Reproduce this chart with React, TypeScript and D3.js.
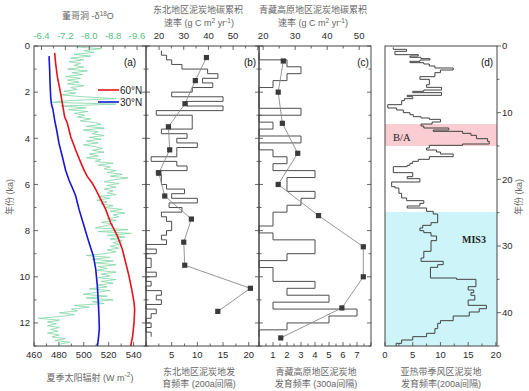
import * as d3 from "d3";

const FONT = "'Liberation Sans', Arial, 'Noto Sans CJK SC', sans-serif";

// 夏季太阳辐射 (W m-2), [ka, value]
const insolation60N: [number, number][] = [
  [0.3, 476.6], [0.76, 477.4], [1.34, 478.8], [1.91, 480.9], [2.49, 482.8], [3.07, 484.6],
  [3.35, 486.8], [3.93, 489.5], [4.51, 493.5], [4.87, 496.2], [5.38, 500.2], [5.66, 502.9],
  [5.95, 506.9], [6.21, 509.6], [6.65, 513.6], [7.08, 517.6], [7.66, 521.6], [8.23, 527.0],
  [8.81, 531.0], [9.39, 533.7], [9.96, 536.3], [10.54, 538.5], [11.12, 540.4], [11.41, 540.9],
  [11.98, 540.4], [12.56, 539.3], [13.0, 537.7],
];
const insolation30N: [number, number][] = [
  [0.44, 472.1], [1.05, 472.6], [1.62, 472.9], [2.2, 473.4], [2.49, 473.9], [2.78, 475.3],
  [3.21, 476.6], [3.64, 478.2], [4.22, 480.1], [4.8, 482.8], [5.38, 485.4], [5.81, 488.1],
  [6.24, 491.6], [6.5, 493.5], [7.08, 496.2], [7.8, 500.2], [8.52, 504.2], [9.1, 507.7],
  [9.67, 509.6], [10.4, 510.9], [11.12, 511.7], [11.7, 512.2], [12.27, 512.5], [12.85, 511.4],
  [13.0, 510.9],
];

// 董哥洞 δ18O, [ka, ‰]
const dongge: [number, number][] = [
  [0.04, -7.6], [0.12, -8.38], [0.2, -7.82], [0.28, -8.16], [0.36, -7.49], [0.44, -8.05],
  [0.52, -7.38], [0.6, -7.82], [0.68, -7.32], [0.76, -7.71], [0.84, -7.49], [0.92, -7.82],
  [1.0, -7.27], [1.08, -7.94], [1.16, -7.43], [1.24, -7.77], [1.32, -7.21], [1.4, -7.71],
  [1.48, -7.27], [1.56, -7.66], [1.64, -7.27], [1.72, -7.82], [1.8, -7.38], [1.88, -7.6],
  [1.96, -7.15], [2.04, -7.55], [2.12, -7.05], [2.2, -7.8], [2.28, -8.9], [2.36, -7.4],
  [2.44, -6.75], [2.52, -8.9], [2.6, -7.05], [2.68, -7.9], [2.76, -7.3], [2.84, -7.95],
  [2.92, -7.5], [3.0, -7.85], [3.08, -7.6], [3.16, -8.05], [3.24, -7.7], [3.32, -8.2],
  [3.4, -8.4], [3.48, -7.9], [3.56, -8.5], [3.64, -7.8], [3.72, -8.3], [3.8, -8.1],
  [3.88, -8.5], [3.96, -8.0], [4.04, -8.4], [4.12, -7.9], [4.2, -8.3], [4.28, -7.8],
  [4.36, -8.2], [4.44, -8.45], [4.52, -8.1], [4.6, -8.5], [4.68, -8.0], [4.76, -8.3],
  [4.84, -7.9], [4.92, -8.4], [5.0, -8.2], [5.08, -8.8], [5.16, -8.3], [5.24, -8.7],
  [5.32, -8.5], [5.4, -8.9], [5.48, -8.6], [5.56, -9.1], [5.64, -8.7], [5.72, -9.3],
  [5.8, -8.8], [5.88, -8.5], [5.96, -9.0], [6.04, -8.6], [6.12, -8.9], [6.2, -8.5],
  [6.28, -8.8], [6.36, -8.6], [6.44, -8.9], [6.52, -8.3], [6.6, -8.7], [6.68, -8.25],
  [6.76, -8.6], [6.84, -8.4], [6.92, -8.8], [7.0, -8.5], [7.08, -9.1], [7.16, -8.7],
  [7.24, -9.2], [7.32, -8.8], [7.4, -9.0], [7.48, -8.6], [7.56, -8.9], [7.64, -8.4],
  [7.72, -8.8], [7.8, -8.5], [7.88, -8.2], [7.96, -9.3], [8.04, -8.3], [8.12, -9.4],
  [8.2, -8.6], [8.28, -9.2], [8.36, -8.7], [8.44, -9.1], [8.52, -8.8], [8.6, -9.0],
  [8.68, -8.7], [8.76, -9.0], [8.84, -8.6], [8.92, -8.9], [9.0, -8.5], [9.08, -7.9],
  [9.16, -8.7], [9.24, -8.1], [9.32, -8.8], [9.4, -8.2], [9.48, -8.9], [9.56, -8.3],
  [9.64, -8.6], [9.72, -8.25], [9.8, -8.9], [9.88, -8.4], [9.96, -8.7], [10.04, -8.3],
  [10.12, -8.9], [10.2, -8.4], [10.28, -8.8], [10.36, -8.3], [10.44, -8.6], [10.52, -8.0],
  [10.6, -8.7], [10.68, -8.2], [10.76, -7.8], [10.84, -8.6], [10.92, -7.9], [11.0, -8.8],
  [11.08, -8.1], [11.16, -8.5], [11.24, -7.5], [11.32, -8.0], [11.4, -7.4], [11.48, -7.6],
  [11.56, -7.0], [11.64, -7.5], [11.72, -7.05], [11.8, -6.3], [11.88, -7.0], [11.96, -6.6],
  [12.04, -6.9], [12.12, -6.6], [12.2, -7.0], [12.28, -6.7], [12.36, -6.95], [12.44, -6.6],
  [12.52, -7.0], [12.6, -6.75], [12.68, -7.2], [12.76, -6.85], [12.84, -7.35], [12.92, -7.0],
];

// 东北地区
const carbonNEAge = [0.5, 1.5, 2.5, 3.5, 4.5, 5.5, 6.5, 7.5, 8.5, 9.5, 10.5, 11.5];
const carbonNE = [39.2, 34.7, 30.5, 23.8, 24.3, 19.9, 22.3, 33.1, 30.0, 30.4, 57.0, 43.8];
const freqNEStart = 0.2;
const freqNEBin = 0.2;
const freqNE = [
  3, 4, 5, 7, 12, 14, 11, 13, 9, 5, 15, 8, 15, 2, 9, 9, 9, 3, 8, 6, 10, 6, 6, 1, 6, 8, 2, 3, 3, 4,
  7.5, 5, 10, 4.5, 7, 3, 4, 5, 5, 4, 3, 4, 0, 2, 0, 1, 1, 0, 2, 0, 1, 0, 3, 2, 3, 0, 2, 1, 0, 1, 0, 1,
];

// 青藏高原地区
const carbonTPAge = [0.65, 2.0, 3.35, 4.65, 6.0, 7.35, 8.7, 10.0, 11.35, 12.65];
const carbonTP = [26.3, 24.7, 26.0, 30.8, 24.7, 37.3, 51.3, 51.3, 44.6, 25.5];
const freqTPStart = 0.3;
const freqTPBin = 0.3;
const freqTP = [
  0, 2, 3, 2, 1, 0, 0, 0, 3, 0, 1, 0, 3, 0, 1, 2, 1, 4, 2, 2, 4, 3, 2, 1, 1, 0, 1, 4, 4, 2, 0, 1, 1,
  4, 2, 5, 1, 7, 5, 2, 0,
];

// 亚热带季风区, [bin start ka, frequency]
const freqSub: [number, number][] = [
  [0.2, 1.5], [0.5, 3.9], [0.8, 1.8], [1.3, 6.0], [1.5, 4.5], [1.7, 6.5], [1.9, 8.1], [2.1, 6.3],
  [2.3, 4.5], [2.5, 7.0], [2.7, 8.0], [3.0, 9.0], [3.3, 12.3], [3.6, 10.0], [4.0, 9.0], [4.6, 6.3],
  [5.0, 8.0], [5.8, 7.5], [6.2, 10.2], [6.6, 7.0], [6.8, 5.0], [7.0, 10.2], [7.4, 4.0], [7.6, 5.0],
  [7.9, 3.5], [8.2, 3.0], [8.8, 0.5], [9.3, 2.1], [9.6, 3.3], [10.0, 4.5], [10.3, 5.1], [10.6, 6.5],
  [10.8, 8.0], [11.0, 10.0], [11.4, 8.5], [11.7, 6.5], [12.0, 7.0], [12.3, 11.5], [12.6, 8.7],
  [12.8, 14.0], [13.1, 15.5], [13.4, 16.5], [13.9, 18.5], [14.3, 18.8], [14.7, 14.0], [14.9, 8.0],
  [15.3, 7.5], [15.6, 9.3], [15.9, 10.0], [16.2, 12.3], [16.6, 8.0], [17.0, 6.0], [17.3, 5.0],
  [17.6, 4.5], [17.9, 4.0], [18.1, 1.5], [19.0, 5.0], [19.6, 4.0], [19.9, 6.3], [20.4, 1.2],
  [21.1, 1.8], [21.3, 2.5], [22.1, 3.0], [22.8, 3.9], [23.2, 7.0], [23.6, 6.3], [24.0, 4.0],
  [24.3, 7.5], [24.8, 8.7], [25.2, 9.5], [26.5, 8.3], [26.9, 6.8], [27.3, 6.3], [27.7, 7.0],
  [28.0, 8.3], [28.5, 9.3], [29.2, 8.3], [30.8, 7.0], [31.8, 6.5], [32.3, 10.5], [32.8, 9.5],
  [33.2, 8.2], [34.8, 12.9], [35.0, 16.4], [36.1, 15.0], [36.6, 16.0], [37.0, 15.5], [37.4, 16.2],
  [38.1, 15.0], [38.9, 18.3], [39.4, 17.0], [39.9, 15.2], [40.5, 12.3], [41.2, 10.0], [41.6, 9.5],
  [42.4, 9.0], [43.1, 7.5], [43.6, 5.0], [44.1, 3.0], [44.6, 2.0],
];
const freqSubEnd = 45;
const baPeriod = [11.7, 15.0];
const mis3Period = [24.9, 45];

const TOP = 46;
const BOTTOM = 346;
const PA = [34, 146];
const PB = [146, 259];
const PC = [259, 371];
const PD = [385, 497];
const FRAME = "#444";

function binsFrom(start: number, width: number, values: number[]): [number, number][] {
  return values.map((v, i) => [start + i * width, v]);
}

function stepPath(bins: [number, number][], end: number, x: any, y: any) {
  const pts: [number, number][] = [];
  bins.forEach(([t, v], i) => {
    const t1 = i < bins.length - 1 ? bins[i + 1][0] : end;
    pts.push([x(v), y(t)], [x(v), y(t1)]);
  });
  return d3.line()(pts) || "";
}

function VTicks({ x, dir, y, step, max, major }: any) {
  const vals = d3.range(0, max + 0.001, step);
  return (
    <g stroke={FRAME} strokeWidth={0.8}>
      {vals.map((v) => {
        const len = Math.abs(v / major - Math.round(v / major)) < 1e-6 ? 4 : 2.5;
        return <line key={v} x1={x} x2={x + dir * len} y1={y(v)} y2={y(v)} />;
      })}
    </g>
  );
}

function HTicks({ scale, vals, majors, y, dir }: any) {
  return (
    <g stroke={FRAME} strokeWidth={0.8}>
      {vals.map((v: number) => {
        const len = majors.some((m: number) => Math.abs(m - v) < 1e-6) ? 4 : 2.5;
        return <line key={v} x1={scale(v)} x2={scale(v)} y1={y} y2={y + dir * len} />;
      })}
    </g>
  );
}

export default function App() {
  const y13 = d3.scaleLinear().domain([0, 13]).range([TOP, BOTTOM]);
  const y45 = d3.scaleLinear().domain([0, 45]).range([TOP, BOTTOM]);
  const xIns = d3.scaleLinear().domain([460, 550]).range(PA);
  const xD18O = d3.scaleLinear().domain([-6.15, -9.9]).range(PA);
  const xCarbNE = d3.scaleLinear().domain([14.7, 60.5]).range(PB);
  const xFreqNE = d3.scaleLinear().domain([0, 22]).range(PB);
  const xCarbTP = d3.scaleLinear().domain([18.7, 53.7]).range(PC);
  const xFreqTP = d3.scaleLinear().domain([0, 8]).range(PC);
  const xFreqSub = d3.scaleLinear().domain([0, 20.2]).range(PD);

  const line = d3.line<[number, number]>();
  const greenPath = line(dongge.map(([t, v]) => [xD18O(v), y13(t)]));
  const redPath = line(insolation60N.map(([t, w]) => [xIns(w), y13(t)]));
  const bluePath = line(insolation30N.map(([t, w]) => [xIns(w), y13(t)]));

  const neBins = binsFrom(freqNEStart, freqNEBin, freqNE);
  const tpBins = binsFrom(freqTPStart, freqTPBin, freqTP);
  const nePath = stepPath(neBins, freqNEStart + freqNE.length * freqNEBin, xFreqNE, y13);
  const tpPath = stepPath(tpBins, freqTPStart + freqTP.length * freqTPBin, xFreqTP, y13);
  const subPath = stepPath(freqSub, freqSubEnd, xFreqSub, y45);

  const neCarbPts: [number, number][] = carbonNE.map((v, i) => [xCarbNE(v), y13(carbonNEAge[i])]);
  const tpCarbPts: [number, number][] = carbonTP.map((v, i) => [xCarbTP(v), y13(carbonTPAge[i])]);

  const tickLabel = { fontSize: 9.5, fill: "#2a2a2a" };
  const titleStyle = { fontSize: 9, fill: "#666" };

  return (
    <svg width={529} height={391} style={{ position: "absolute", left: 0, top: 0, background: "#fff" }} fontFamily={FONT}>
      {/* 背景区间 */}
      <rect x={PD[0]} y={y45(baPeriod[0])} width={PD[1] - PD[0]} height={y45(baPeriod[1]) - y45(baPeriod[0])} fill="#f9cdd1" />
      <rect x={PD[0]} y={y45(mis3Period[0])} width={PD[1] - PD[0]} height={y45(mis3Period[1]) - y45(mis3Period[0])} fill="#cdf4f8" />

      {/* (a) */}
      <path d={greenPath || ""} fill="none" stroke="#7fd4a2" strokeWidth={0.8} />
      <path d={redPath || ""} fill="none" stroke="#e4141b" strokeWidth={1.6} />
      <path d={bluePath || ""} fill="none" stroke="#1616d6" strokeWidth={1.6} />
      <line x1={98} x2={119} y1={90} y2={90} stroke="#e4141b" strokeWidth={1.6} />
      <line x1={98} x2={119} y1={102} y2={102} stroke="#1616d6" strokeWidth={1.6} />
      <text x={120} y={93.5} fontSize={10} fill="#222">60°N</text>
      <text x={120} y={105.5} fontSize={10} fill="#222">30°N</text>

      {/* (b) */}
      <path d={nePath} fill="none" stroke="#444" strokeWidth={0.95} />
      <path d={line(neCarbPts) || ""} fill="none" stroke="#8a8a8a" strokeWidth={0.9} />
      {neCarbPts.map(([x, y], i) => (
        <rect key={i} x={x - 2.6} y={y - 2.6} width={5.2} height={5.2} fill="#3a3a3a" />
      ))}

      {/* (c) */}
      <path d={tpPath} fill="none" stroke="#444" strokeWidth={0.95} />
      <path d={line(tpCarbPts) || ""} fill="none" stroke="#8a8a8a" strokeWidth={0.9} />
      {tpCarbPts.map(([x, y], i) => (
        <rect key={i} x={x - 2.6} y={y - 2.6} width={5.2} height={5.2} fill="#3a3a3a" />
      ))}

      {/* (d) */}
      <path d={subPath} fill="none" stroke="#3a3a3a" strokeWidth={0.95} />
      <text x={393} y={141} fontSize={10.5} fontFamily="'Liberation Serif', 'Times New Roman', serif" fill="#222">B/A</text>
      <text x={462} y={243} fontSize={10} fontWeight="bold" fontFamily="'Liberation Serif', 'Times New Roman', serif" fill="#222">MIS3</text>

      {/* 框 */}
      {[PA, PB, PC, PD].map((p, i) => (
        <rect key={i} x={p[0]} y={TOP} width={p[1] - p[0]} height={BOTTOM - TOP} fill="none" stroke={FRAME} strokeWidth={1} />
      ))}

      {/* 纵轴刻度 */}
      {[PA, PB, PC].map((p, i) => (
        <g key={i}>
          <VTicks x={p[0]} dir={1} y={y13} step={1} max={13} major={2} />
          <VTicks x={p[1]} dir={-1} y={y13} step={1} max={13} major={2} />
        </g>
      ))}
      <VTicks x={PD[1]} dir={1} y={y45} step={5} max={45} major={10} />
      {d3.range(0, 13, 2).map((v) => (
        <text key={v} x={30} y={y13(v) + 3.3} textAnchor="end" {...tickLabel}>{v}</text>
      ))}
      {d3.range(0, 45, 10).map((v) => (
        <text key={v} x={502} y={y45(v) + 3.3} {...tickLabel}>{v}</text>
      ))}

      {/* 顶部轴 */}
      <HTicks scale={xD18O} vals={d3.range(-6.4, -9.95, -0.4)} majors={[-6.4, -7.2, -8.0, -8.8, -9.6]} y={TOP} dir={1} />
      {[-6.4, -7.2, -8.0, -8.8, -9.6].map((v) => (
        <text key={v} x={xD18O(v)} y={38.5} textAnchor="middle" fontSize={9.5} fill="#52c083">{v.toFixed(1)}</text>
      ))}
      <HTicks scale={xCarbNE} vals={d3.range(15, 60.1, 5)} majors={[20, 30, 40, 50, 60]} y={TOP} dir={1} />
      {[20, 30, 40, 50].map((v) => (
        <text key={v} x={xCarbNE(v)} y={38.5} textAnchor="middle" {...tickLabel}>{v}</text>
      ))}
      <HTicks scale={xCarbTP} vals={d3.range(20, 53.1, 5)} majors={[20, 30, 40, 50]} y={TOP} dir={1} />
      {[20, 30, 40, 50].map((v) => (
        <text key={v} x={xCarbTP(v)} y={38.5} textAnchor="middle" {...tickLabel}>{v}</text>
      ))}

      {/* 底部轴 */}
      <HTicks scale={xIns} vals={d3.range(460, 550.1, 10)} majors={[460, 480, 500, 520, 540]} y={BOTTOM} dir={-1} />
      {[460, 480, 500, 520, 540].map((v) => (
        <text key={v} x={xIns(v)} y={357.5} textAnchor="middle" {...tickLabel}>{v}</text>
      ))}
      <HTicks scale={xFreqNE} vals={d3.range(0, 22.1, 2.5)} majors={[0, 5, 10, 15, 20]} y={BOTTOM} dir={-1} />
      {[5, 10, 15, 20].map((v) => (
        <text key={v} x={xFreqNE(v)} y={357.5} textAnchor="middle" {...tickLabel}>{v}</text>
      ))}
      <HTicks scale={xFreqTP} vals={d3.range(0, 8.01, 0.5)} majors={d3.range(0, 9)} y={BOTTOM} dir={-1} />
      {d3.range(1, 8).map((v) => (
        <text key={v} x={xFreqTP(v)} y={357.5} textAnchor="middle" {...tickLabel}>{v}</text>
      ))}
      <HTicks scale={xFreqSub} vals={d3.range(0, 20.1, 2.5)} majors={[0, 5, 10, 15, 20]} y={BOTTOM} dir={-1} />
      {[0, 5, 10, 15, 20].map((v) => (
        <text key={v} x={xFreqSub(v)} y={357.5} textAnchor="middle" {...tickLabel}>{v}</text>
      ))}

      {/* 面板标签 */}
      <text x={130} y={66} textAnchor="middle" fontSize={10} fill="#111">(a)</text>
      <text x={250} y={66} textAnchor="middle" fontSize={10} fill="#111">(b)</text>
      <text x={363} y={66} textAnchor="middle" fontSize={10} fill="#111">(c)</text>
      <text x={487} y={66} textAnchor="middle" fontSize={10} fill="#111">(d)</text>

      {/* 标题 */}
      <text x={88} y={19} textAnchor="middle" {...titleStyle}>董哥洞 -δ<tspan dy={-3.5} fontSize={6.5}>18</tspan><tspan dy={3.5}>O</tspan></text>
      <text x={198} y={12.5} textAnchor="middle" {...titleStyle}>东北地区泥炭地碳累积</text>
      <text x={199} y={26} textAnchor="middle" {...titleStyle}>速率 (g C m<tspan dy={-3.5} fontSize={6.5}>2</tspan><tspan dy={3.5}> yr</tspan><tspan dy={-3.5} fontSize={6.5}>-1</tspan><tspan dy={3.5}>)</tspan></text>
      <text x={313} y={12.5} textAnchor="middle" {...titleStyle}>青藏高原地区泥炭地碳累积</text>
      <text x={313} y={26} textAnchor="middle" {...titleStyle}>速率 (g C m<tspan dy={-3.5} fontSize={6.5}>2</tspan><tspan dy={3.5}> yr</tspan><tspan dy={-3.5} fontSize={6.5}>-1</tspan><tspan dy={3.5}>)</tspan></text>

      <text x={90} y={380.5} textAnchor="middle" {...titleStyle}>夏季太阳辐射 (W m<tspan dy={-3.5} fontSize={6.5}>-2</tspan><tspan dy={3.5}>)</tspan></text>
      <text x={199} y={374.5} textAnchor="middle" {...titleStyle}>东北地区泥炭地发</text>
      <text x={199} y={387} textAnchor="middle" {...titleStyle}>育频率 (200a间隔)</text>
      <text x={316} y={374.5} textAnchor="middle" {...titleStyle}>青藏高原地区泥炭地</text>
      <text x={316} y={387} textAnchor="middle" {...titleStyle}>发育频率 (300a间隔)</text>
      <text x={441} y={374.5} textAnchor="middle" {...titleStyle}>亚热带季风区泥炭地</text>
      <text x={441} y={387} textAnchor="middle" {...titleStyle}>发育频率(200a间隔)</text>

      <text transform="translate(13,197) rotate(-90)" textAnchor="middle" {...titleStyle}>年份 (ka)</text>
      <text transform="translate(522,197) rotate(-90)" textAnchor="middle" {...titleStyle}>年份 (ka)</text>
    </svg>
  );
}
